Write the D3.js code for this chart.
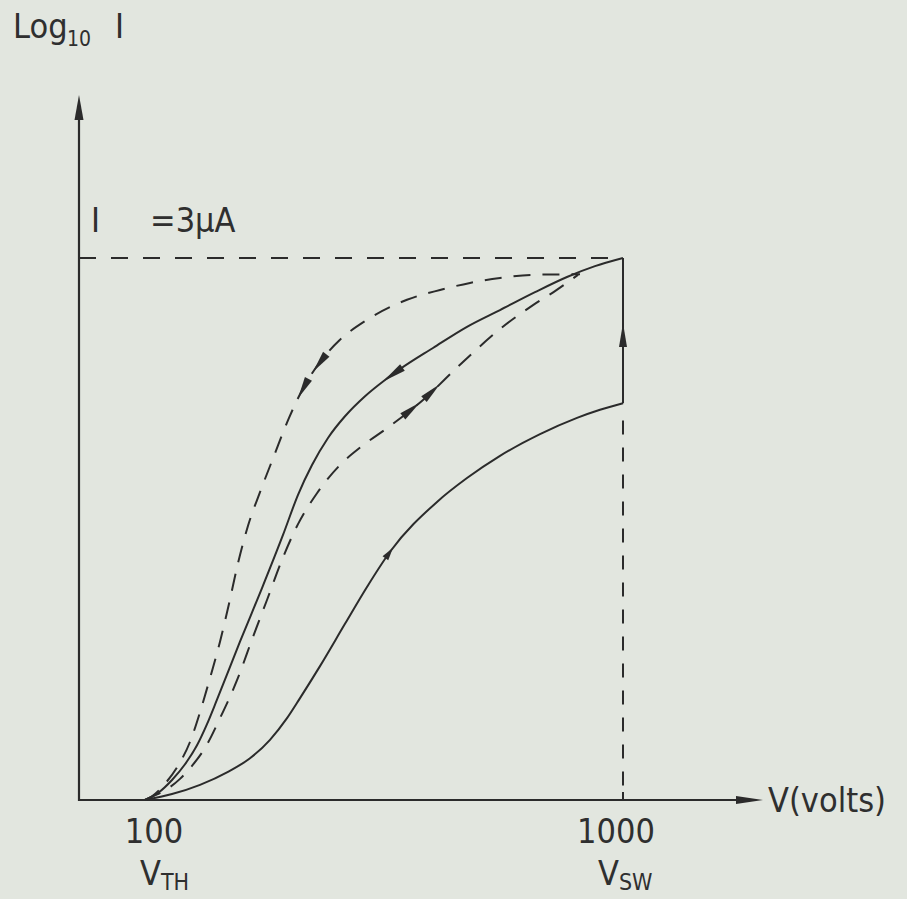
<!DOCTYPE html>
<html>
<head>
<meta charset="utf-8">
<script src="https://cdn.jsdelivr.net/npm/d3@7"></script>
<style>
  html, body { margin: 0; padding: 0; background: #e2e6df; }
  svg { display: block; }
  text { font-family: "Liberation Sans Narrow", "DejaVu Sans Condensed", "Liberation Sans", sans-serif; fill: #2f2f2f; }
</style>
</head>
<body>
<svg id="chart" width="907" height="899"></svg>
<script>
// Voltage axis is logarithmic: values below are log10(V / volts)
const tickLogV  = [2, 3];
const tickNames = ["100", "1000"];
const tickSubs  = ["TH", "SW"];

// Current axis: normalised log10 I, 1 = the 3 μA level
const satLevel = 1;
const satLabel = "=3μA";

// Branches as [log10 V, normalised log10 I], ordered by rising voltage
const riseSolid = [
  [2.0000, 0], [2.0565, 0.011], [2.1151, 0.028], [2.1736, 0.052], [2.2197, 0.077],
  [2.2615, 0.111], [2.2971, 0.151], [2.3243, 0.188], [2.3661, 0.247], [2.4184, 0.325],
  [2.4644, 0.393], [2.5126, 0.458], [2.6109, 0.550], [2.6736, 0.594], [2.7427, 0.635],
  [2.8264, 0.675], [2.9038, 0.705], [2.9519, 0.720], [3.0000, 0.732]
];
const fallSolid = [
  [2.0000, 0], [2.0272, 0.013], [2.0565, 0.037], [2.0837, 0.066], [2.1088, 0.101],
  [2.1297, 0.140], [2.1506, 0.185], [2.1987, 0.292], [2.2448, 0.391], [2.2887, 0.489],
  [2.3201, 0.563], [2.3494, 0.618], [2.3828, 0.668], [2.4184, 0.708], [2.4603, 0.745],
  [2.5021, 0.775], [2.5335, 0.795], [2.6025, 0.834], [2.6736, 0.873], [2.7427, 0.904],
  [2.8159, 0.937], [2.8828, 0.965], [2.9414, 0.985], [3.0000, 1.000]
];
const fallDashed = [
  [2.0000, 0], [2.0146, 0.007], [2.0418, 0.030], [2.0690, 0.063], [2.0941, 0.107],
  [2.1151, 0.162], [2.1360, 0.225], [2.1569, 0.292], [2.1757, 0.362], [2.1946, 0.437],
  [2.2155, 0.506], [2.2406, 0.568], [2.2699, 0.635], [2.3013, 0.705], [2.3347, 0.766],
  [2.3724, 0.815], [2.4079, 0.849], [2.4644, 0.886], [2.5481, 0.923], [2.6172, 0.941],
  [2.6799, 0.954], [2.7427, 0.963], [2.8117, 0.969], [2.9100, 0.970]
];
const riseDashed = [
  [2.0000, 0], [2.0146, 0.006], [2.0460, 0.020], [2.0732, 0.039], [2.0983, 0.063],
  [2.1255, 0.096], [2.1569, 0.151], [2.1925, 0.221], [2.2259, 0.301], [2.2552, 0.369],
  [2.2866, 0.443], [2.3201, 0.509], [2.3598, 0.566], [2.4079, 0.618], [2.4540, 0.653],
  [2.5063, 0.686], [2.5816, 0.738], [2.6590, 0.803], [2.7427, 0.869], [2.8117, 0.913],
  [2.8577, 0.939], [2.9059, 0.969]
];

// Arrowhead tips (log10 V) on each branch
const arrowsRiseSolid  = [2.5188];
const arrowsFallSolid  = [2.4979];
const arrowsFallDashed = [2.3515, 2.3201];
const arrowsRiseDashed = [2.5753, 2.6172];
const jumpArrowLevel = 0.88;   // tip of the arrow on the jump at V_SW
const jumpDashedTop  = 0.70;   // top of the dashed drop line at V_SW

const ink = "#2b2b2b";
const svg = d3.select("#chart");

const x = d3.scaleLinear().domain([2, 3]).range([145, 623]);
const y = d3.scaleLinear().domain([0, 1]).range([800, 258]);

const originX = 79, axisTopY = 95, axisRightX = 763;
const baseY = y(0);
const vsw = x(tickLogV[1]);

// axes with arrowheads
svg.append("line").attr("x1", originX).attr("y1", baseY + 1).attr("x2", originX).attr("y2", axisTopY + 20)
  .attr("stroke", ink).attr("stroke-width", 2.2);
svg.append("line").attr("x1", originX - 1).attr("y1", baseY).attr("x2", axisRightX - 20).attr("y2", baseY)
  .attr("stroke", ink).attr("stroke-width", 2.2);
svg.append("path")
  .attr("d", `M${originX},${axisTopY} L${originX - 4.5},${axisTopY + 25} L${originX + 4.5},${axisTopY + 25} Z`)
  .attr("fill", ink);
svg.append("path")
  .attr("d", `M${axisRightX},${baseY} L${axisRightX - 27},${baseY - 4} L${axisRightX - 27},${baseY + 4} Z`)
  .attr("fill", ink);

// tick at V_SW
svg.append("line").attr("x1", vsw).attr("x2", vsw).attr("y1", baseY).attr("y2", baseY - 8)
  .attr("stroke", ink).attr("stroke-width", 2);

// dashed guides: the 3 μA level and the drop to V_SW
svg.append("line").attr("x1", originX).attr("y1", y(satLevel)).attr("x2", vsw).attr("y2", y(satLevel))
  .attr("stroke", ink).attr("stroke-width", 2).attr("stroke-dasharray", "17,15");
svg.append("line").attr("x1", vsw).attr("y1", y(jumpDashedTop)).attr("x2", vsw).attr("y2", baseY)
  .attr("stroke", ink).attr("stroke-width", 2).attr("stroke-dasharray", "14,13");

// current jump at V_SW
const riseEnd = riseSolid[riseSolid.length - 1];
svg.append("line").attr("x1", x(riseEnd[0])).attr("y1", y(riseEnd[1])).attr("x2", vsw).attr("y2", y(satLevel))
  .attr("stroke", ink).attr("stroke-width", 2);

const line = d3.line().x(d => x(d[0])).y(d => y(d[1])).curve(d3.curveMonotoneX);

function branch(data, dashed) {
  return svg.append("path").datum(data).attr("d", line)
    .attr("fill", "none").attr("stroke", ink).attr("stroke-width", 2)
    .attr("stroke-dasharray", dashed ? "17,12" : null);
}

// arrowhead with its tip on the path at a given log10 V; forward = travel with rising V
function arrowOn(pathSel, lv, forward, len, wid) {
  const node = pathSel.node();
  const total = node.getTotalLength();
  const tx = x(lv);
  let lo = 0, hi = total;
  for (let i = 0; i < 40; i++) {
    const mid = (lo + hi) / 2;
    if (node.getPointAtLength(mid).x < tx) lo = mid; else hi = mid;
  }
  const l = (lo + hi) / 2;
  const tip = node.getPointAtLength(l);
  const base = node.getPointAtLength(forward ? Math.max(0, l - len) : Math.min(total, l + len));
  const dx = tip.x - base.x, dy = tip.y - base.y;
  const n = Math.hypot(dx, dy) || 1;
  const nx = -dy / n * wid / 2, ny = dx / n * wid / 2;
  svg.append("path")
    .attr("d", `M${tip.x},${tip.y} L${base.x + nx},${base.y + ny} L${base.x - nx},${base.y - ny} Z`)
    .attr("fill", ink);
}

const pRise  = branch(riseSolid, false);
const pFall  = branch(fallSolid, false);
const pFallD = branch(fallDashed, true);
const pRiseD = branch(riseDashed, true);

arrowsRiseSolid.forEach(v => arrowOn(pRise, v, true, 13, 7));
arrowsFallSolid.forEach(v => arrowOn(pFall, v, false, 24, 8));
arrowsFallDashed.forEach(v => arrowOn(pFallD, v, false, 22, 8));
arrowsRiseDashed.forEach(v => arrowOn(pRiseD, v, true, 22, 8));

// arrow on the jump
svg.append("path")
  .attr("d", `M${vsw},${y(jumpArrowLevel)} L${vsw - 4},${y(jumpArrowLevel) + 24} L${vsw + 4},${y(jumpArrowLevel) + 24} Z`)
  .attr("fill", ink);

// labels
const big = 34, sub = 21;
svg.append("text").attr("x", 13).attr("y", 38).attr("font-size", big).text("Log");
svg.append("text").attr("x", 67).attr("y", 46).attr("font-size", sub).text("10");
svg.append("text").attr("x", 115).attr("y", 38).attr("font-size", big).text("I");

svg.append("text").attr("x", 91).attr("y", 232).attr("font-size", big).text("I");
svg.append("text").attr("x", 150).attr("y", 232).attr("font-size", big).text(satLabel);

tickLogV.forEach((v, i) => {
  svg.append("text").attr("x", x(v) + (i === 0 ? 9 : -7)).attr("y", 843)
    .attr("text-anchor", "middle").attr("font-size", big).text(tickNames[i]);
  const g = svg.append("text").attr("x", x(v) + (i === 0 ? -5 : -25)).attr("y", 885).attr("font-size", big);
  g.append("tspan").text("V");
  g.append("tspan").attr("font-size", 23).attr("dy", 5).text(tickSubs[i]);
});

svg.append("text").attr("x", 768).attr("y", 812).attr("font-size", big).text("V(volts)");
</script>
</body>
</html>
